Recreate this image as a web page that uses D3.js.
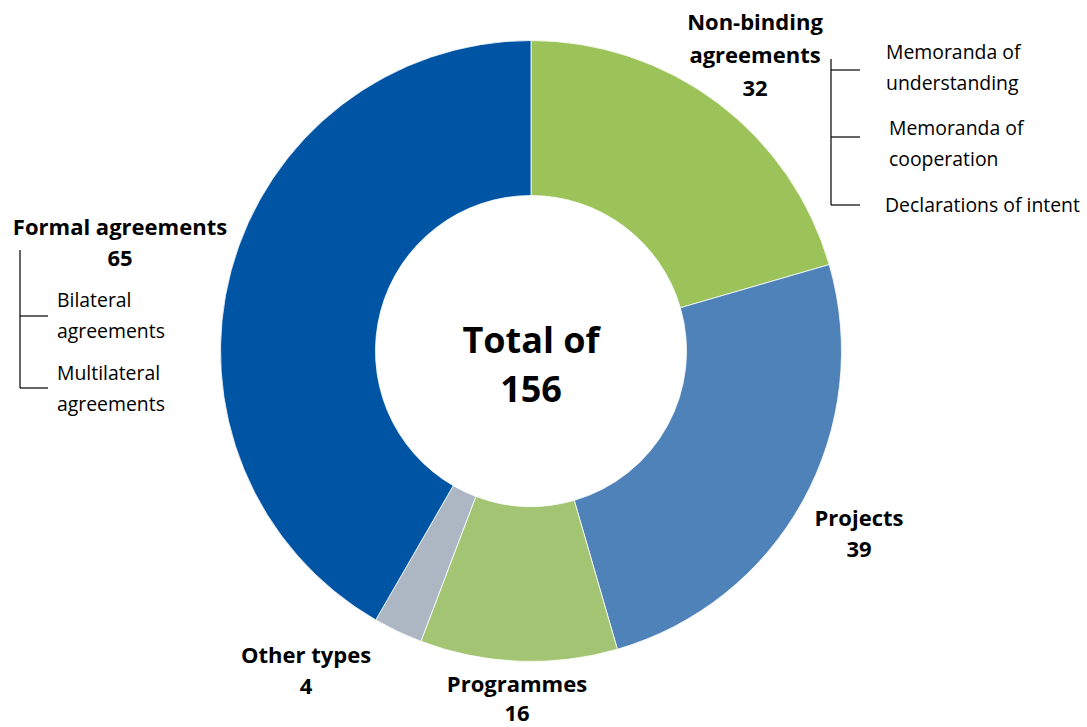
<!DOCTYPE html>
<html>
<head>
<meta charset="utf-8">
<script src="https://cdn.jsdelivr.net/npm/d3@7"></script>
<style>
  html, body { margin: 0; padding: 0; background: #ffffff; }
  svg { display: block; }
  text { font-family: "Open Sans", Lato, sans-serif; fill: #000; }
</style>
</head>
<body>
<div id="chart"></div>
<script>
// Agreement types, in clockwise order from 12 o'clock
const categories = ["Non-binding agreements", "Projects", "Programmes", "Other types", "Formal agreements"];
const values = [32, 39, 16, 4, 65];
const colors = ["#9bc35a", "#4f82b8", "#a3c573", "#adb7c3", "#0054a4"];

// Sub-types listed beside two of the segments
const nonBindingTypes = ["Memoranda of|understanding", "Memoranda of|cooperation", "Declarations of intent"];
const formalTypes = ["Bilateral|agreements", "Multilateral|agreements"];

const total = d3.sum(values);

const W = 1087, H = 727;
const cx = 531, cy = 351;
const outerR = 310.5, innerR = 155.5;

const svg = d3.select("#chart").append("svg")
  .attr("width", W).attr("height", H);

const pie = d3.pie().sort(null).value(d => d.value);
const arc = d3.arc().innerRadius(innerR).outerRadius(outerR);

const data = categories.map((c, i) => ({ name: c, value: values[i], color: colors[i] }));

const g = svg.append("g").attr("transform", `translate(${cx},${cy})`);
g.selectAll("path").data(pie(data)).join("path")
  .attr("d", arc)
  .attr("fill", d => d.data.color)
  .attr("stroke", "#ffffff")
  .attr("stroke-width", 0.8);

// Centre caption
g.append("text").attr("text-anchor", "middle").attr("y", 2)
  .attr("font-size", 36).attr("font-weight", 700).text("Total of");
g.append("text").attr("text-anchor", "middle").attr("y", 51)
  .attr("font-size", 36).attr("font-weight", 700).text(total);

// Segment labels: name lines + value, positioned by hand around the ring
const labelLayout = {
  "Non-binding agreements": { x: 755, y: 30, gap: 33, lines: ["Non-binding", "agreements"] },
  "Projects": { x: 859, y: 526, gap: 31, lines: ["Projects"] },
  "Programmes": { x: 517, y: 692, gap: 29, lines: ["Programmes"] },
  "Other types": { x: 306, y: 663, gap: 31, lines: ["Other types"] },
  "Formal agreements": { x: 120, y: 235, gap: 31, lines: ["Formal agreements"] }
};

data.forEach(d => {
  const L = labelLayout[d.name];
  const t = svg.append("text")
    .attr("text-anchor", "middle")
    .attr("font-size", 22)
    .attr("font-weight", 700);
  const lines = L.lines.concat([String(d.value)]);
  lines.forEach((s, i) => {
    t.append("tspan").attr("x", L.x).attr("y", L.y + i * L.gap).text(s);
  });
});

// Bracket lists of sub-types
function bracket(items, opt) {
  const grp = svg.append("g");
  const ys = opt.ticks;
  grp.append("line")
    .attr("x1", opt.x).attr("x2", opt.x)
    .attr("y1", opt.top).attr("y2", ys[ys.length - 1])
    .attr("stroke", "#000").attr("stroke-width", 1.2);
  ys.forEach(y => {
    grp.append("line")
      .attr("x1", opt.x).attr("x2", opt.x + opt.tick)
      .attr("y1", y).attr("y2", y)
      .attr("stroke", "#000").attr("stroke-width", 1.2);
  });
  items.forEach((s, i) => {
    const t = grp.append("text").attr("font-size", 19.4);
    s.split("|").forEach((line, j) => {
      t.append("tspan").attr("x", opt.textX[i]).attr("y", opt.textY[i] + j * opt.gap).text(line);
    });
  });
}

bracket(nonBindingTypes, {
  x: 831, top: 59, tick: 29, ticks: [70, 137, 205],
  textX: [886, 889, 885], textY: [59, 135, 212], gap: 31
});

bracket(formalTypes, {
  x: 20, top: 250, tick: 28, ticks: [316, 388],
  textX: [57, 57], textY: [307, 380], gap: 31
});
</script>
</body>
</html>
